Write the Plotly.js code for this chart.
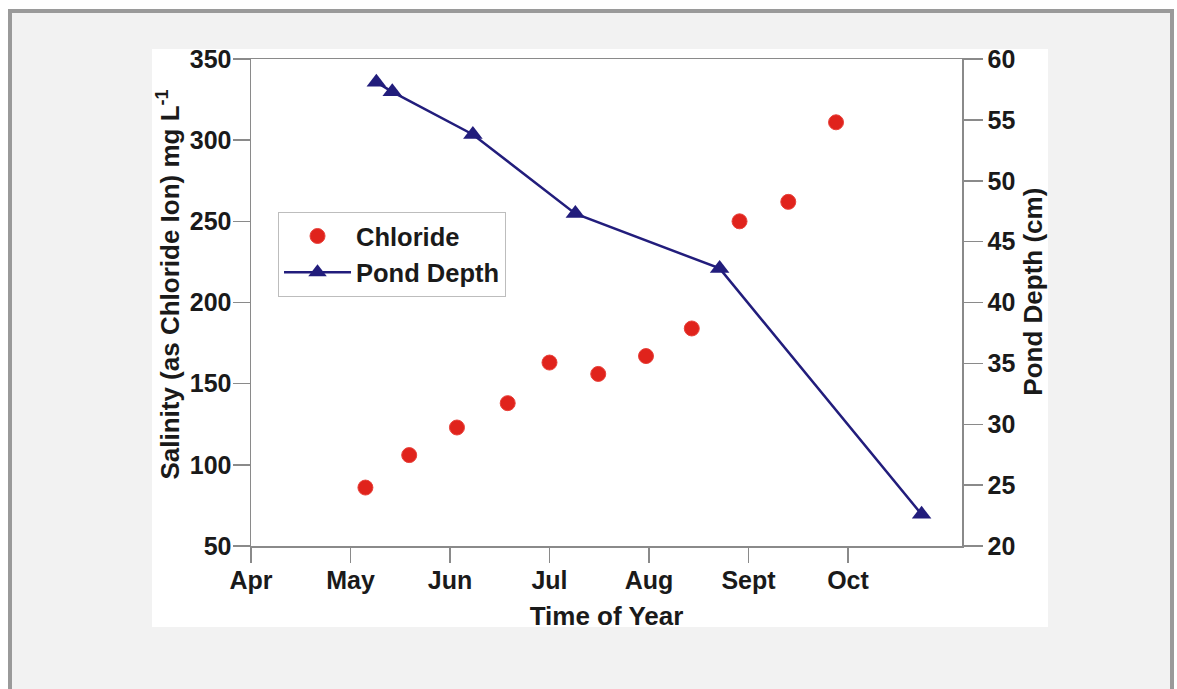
<!DOCTYPE html>
<html><head><meta charset="utf-8">
<script src="https://cdn.plot.ly/plotly-3.0.1.min.js"></script>
<style>
html,body{margin:0;padding:0;background:#fff;}
#frame{position:absolute;left:8px;top:9px;width:1158px;height:700px;background:#f2f2f2;border:4px solid #9a9a9a;border-bottom:none;}
#white{position:absolute;left:152px;top:49px;width:896px;height:578px;background:#fff;}
#clip{position:absolute;left:152px;top:39px;width:896px;height:588px;overflow:hidden;}
#chart{position:absolute;left:0;top:0;width:896px;height:610px;}
</style></head><body>
<div id="frame"></div>
<div id="white"></div>
<div id="clip"><div id="chart"></div></div>
<script>
const months = ['Apr','May','Jun','Jul','Aug','Sept','Oct'];
const monthPos = [0,1,2,3,4,5,6];
const chlorideTime = [1.15,1.59,2.07,2.58,3.0,3.49,3.97,4.43,4.91,5.40,5.88];
const chlorideValues = [86,106,123,138,163,156,167,184,250,262,311];
const depthTime = [1.26,1.42,2.23,3.26,4.71,6.74];
const depthValues = [58.1,57.3,53.8,47.3,42.8,22.6];

const FONT = 'Liberation Sans, Arial, sans-serif';
const tickFont = {family: FONT, size: 25, color: '#1a1a1a', weight: 'bold'};
const titleFont = {family: FONT, size: 26, color: '#1a1a1a', weight: 'bold'};
const legendFont = {family: FONT, size: 25.5, color: '#1a1a1a', weight: 'bold'};
const AX = '#8a8a8a';
const PAD = '\u200b\u00a0\u00a0\u00a0\u00a0\u00a0';
const PAD2 = '\u200b\u00a0\u00a0\u00a0';

const traces = [
  {x: chlorideTime, y: chlorideValues, name: 'Chloride', type: 'scatter', mode: 'markers',
   marker: {symbol: 'circle', size: 15, color: '#e0231c', line: {color: '#e8413a', width: 1}}},
  {x: depthTime, y: depthValues, name: 'Pond Depth', type: 'scatter', mode: 'lines+markers', yaxis: 'y2',
   line: {color: '#221d7c', width: 2.5},
   marker: {symbol: 'triangle-up', size: 17, color: '#221d7c'}}
];

const layout = {
  width: 896, height: 610,
  margin: {l: 99, r: 86, t: 20, b: 103},
  paper_bgcolor: 'rgba(0,0,0,0)', plot_bgcolor: '#ffffff',
  showlegend: true,
  legend: {x: 0.038, y: 0.686, xanchor: 'left', yanchor: 'top', bgcolor: '#ffffff',
    bordercolor: '#bdbdbd', borderwidth: 1, font: legendFont, itemwidth: 67, tracegroupgap: 0},
  xaxis: {range: [0, 7.146], tickvals: monthPos, ticktext: months, showgrid: false, zeroline: false,
    showline: true, linecolor: AX, linewidth: 1.5, mirror: true, ticks: 'outside', ticklen: 15,
    tickcolor: AX, tickwidth: 1.5, tickfont: tickFont, ticklabelstandoff: -4, ticklabeloverflow: 'allow',
    title: {text: 'Time of Year', font: titleFont, standoff: 14}},
  yaxis: {range: [50, 350], dtick: 50, showgrid: false, zeroline: false,
    showline: true, linecolor: AX, linewidth: 1.5, ticks: 'outside', ticklen: 17,
    tickcolor: AX, tickwidth: 1.5, tickfont: tickFont, ticklabelstandoff: -4, ticklabeloverflow: 'allow',
    title: {text: PAD + 'Salinity (as Chloride Ion) mg L<sup>-1</sup>', font: titleFont, standoff: 14}},
  yaxis2: {range: [20, 60], dtick: 5, overlaying: 'y', side: 'right', showgrid: false, zeroline: false,
    showline: true, linecolor: AX, linewidth: 1.5, ticks: 'outside', ticklen: 19,
    tickcolor: AX, tickwidth: 1.5, tickfont: tickFont, ticklabelstandoff: 0, ticklabeloverflow: 'allow',
    title: {text: PAD2 + 'Pond Depth (cm)', font: titleFont, standoff: 13}}
};

Plotly.newPlot('chart', traces, layout, {displayModeBar: false, staticPlot: true});
</script>
</body></html>
